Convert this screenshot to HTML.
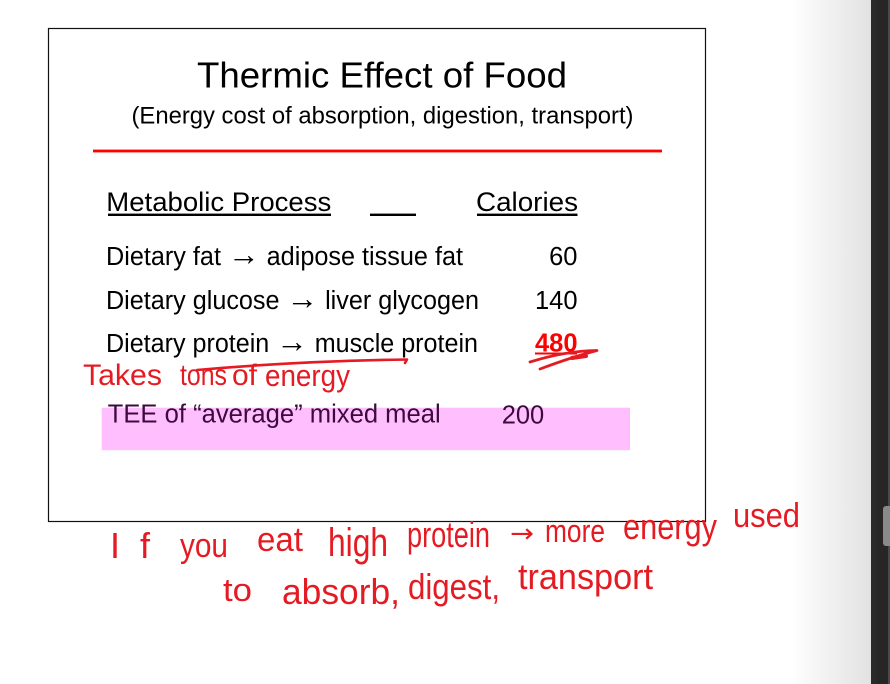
<!DOCTYPE html>
<html>
<head>
<meta charset="utf-8">
<style>
  html, body { margin: 0; padding: 0; background: #ffffff; }
  body { width: 890px; height: 684px; overflow: hidden; }
  svg { display: block; }
  .sans { font-family: "Liberation Sans", Arial, sans-serif; }
  .hw { font-family: "Liberation Sans", Arial, sans-serif; fill: #e41b23; }
</style>
</head>
<body>
<svg width="890" height="684" viewBox="0 0 890 684" xmlns="http://www.w3.org/2000/svg">
  <defs>
    <linearGradient id="shade" x1="0" y1="0" x2="1" y2="0">
      <stop offset="0" stop-color="#ffffff"/>
      <stop offset="1" stop-color="#e2e2e2"/>
    </linearGradient>
  </defs>

  <!-- page background -->
  <rect x="0" y="0" width="890" height="684" fill="#ffffff"/>
  <rect x="790" y="0" width="81" height="684" fill="url(#shade)"/>
  <rect x="871" y="0" width="19" height="684" fill="#2a2a2a"/>
  <rect x="877" y="0" width="11" height="684" fill="#262626"/>
  <rect x="888" y="0" width="2" height="684" fill="#4a4a4a"/>
  <rect x="883" y="506" width="9" height="40" rx="3" fill="#8a8a8a"/>

  <!-- slide box -->
  <rect x="48.5" y="28.5" width="657" height="493" fill="#ffffff" stroke="#111111" stroke-width="1.2"/>

  <!-- title -->
  <text class="sans" x="197" y="87.5" font-size="36.5" textLength="370" lengthAdjust="spacingAndGlyphs" fill="#000">Thermic Effect of Food</text>
  <text class="sans" x="131.5" y="123.5" font-size="23.7" textLength="502" lengthAdjust="spacingAndGlyphs" fill="#000">(Energy cost of absorption, digestion, transport)</text>

  <!-- red rule -->
  <rect x="93" y="149.6" width="569" height="2.8" fill="#ff0000"/>

  <!-- headers -->
  <text class="sans" x="106.3" y="211" font-size="27" textLength="225" lengthAdjust="spacingAndGlyphs" fill="#000">Metabolic Process</text>
  <rect x="108" y="213.6" width="223" height="2.4" fill="#000"/>
  <rect x="370" y="213.6" width="46" height="2.4" fill="#000"/>
  <text class="sans" x="476" y="211" font-size="27" textLength="102" lengthAdjust="spacingAndGlyphs" fill="#000">Calories</text>
  <rect x="477" y="213.6" width="100.5" height="2.4" fill="#000"/>

  <!-- rows -->
  <text class="sans" x="106" y="264.8" font-size="25.5" textLength="357" lengthAdjust="spacingAndGlyphs" fill="#000">Dietary fat <tspan font-size="32">→</tspan> adipose tissue fat</text>
  <text class="sans" x="577.5" y="264.8" font-size="25.5" text-anchor="end" fill="#000">60</text>

  <text class="sans" x="106" y="309" font-size="25.5" textLength="373" lengthAdjust="spacingAndGlyphs" fill="#000">Dietary glucose <tspan font-size="32">→</tspan> liver glycogen</text>
  <text class="sans" x="577.5" y="309" font-size="25.5" text-anchor="end" fill="#000">140</text>

  <text class="sans" x="106" y="352" font-size="25.5" textLength="372" lengthAdjust="spacingAndGlyphs" fill="#000">Dietary protein <tspan font-size="32">→</tspan> muscle protein</text>
  <text class="sans" x="577.5" y="351.7" font-size="25.5" font-weight="bold" text-anchor="end" fill="#ff0000">480</text>
  <rect x="535" y="352.5" width="42" height="2" fill="#ff0000"/>

  <!-- pink highlight row -->
  <rect x="101.7" y="407.7" width="528.3" height="42.5" fill="#ffbfff"/>
  <text class="sans" x="107.7" y="422.5" font-size="25.5" textLength="333" lengthAdjust="spacingAndGlyphs" fill="#3d0a3d">TEE of “average” mixed meal</text>
  <text class="sans" x="501.7" y="423.5" font-size="25.5" fill="#3d0a3d">200</text>

  <!-- handwritten strokes -->
  <path d="M197,370 Q300,361 407,359.5 L405,363" fill="none" stroke="#e41b23" stroke-width="2.6" stroke-linecap="round" stroke-linejoin="round"/>
  <path d="M530,362 Q565,351 597,350.5 Q572,357 540,369" fill="none" stroke="#e41b23" stroke-width="2.8" stroke-linecap="round" stroke-linejoin="round"/>
  <path d="M572,358 L586,356" stroke="#e41b23" stroke-width="4" stroke-linecap="round"/>

  <!-- handwritten notes (as text) -->
  <text class="hw" x="83" y="385" font-size="30" textLength="79" lengthAdjust="spacingAndGlyphs">Takes</text>
  <text class="hw" x="180" y="385" font-size="30" textLength="47" lengthAdjust="spacingAndGlyphs">tons</text>
  <text class="hw" x="232" y="385" font-size="30">of</text>
  <text class="hw" x="265" y="386" font-size="31" textLength="85" lengthAdjust="spacingAndGlyphs">energy</text>

  <text class="hw" x="110 140" y="558" font-size="36">If</text>
  <text class="hw" x="180" y="557" font-size="34" textLength="48" lengthAdjust="spacingAndGlyphs">you</text>
  <text class="hw" x="257" y="551" font-size="34" textLength="46" lengthAdjust="spacingAndGlyphs">eat</text>
  <text class="hw" x="328" y="556" font-size="40" textLength="60" lengthAdjust="spacingAndGlyphs">high</text>
  <text class="hw" x="407" y="547" font-size="36" textLength="83" lengthAdjust="spacingAndGlyphs">protein</text>
  <text x="510" y="542" font-size="26" textLength="24" lengthAdjust="spacingAndGlyphs" style="font-family:'DejaVu Sans',sans-serif;fill:#e41b23">→</text>
  <text class="hw" x="545" y="542" font-size="32" textLength="60" lengthAdjust="spacingAndGlyphs">more</text>
  <text class="hw" x="623" y="539" font-size="36" textLength="94" lengthAdjust="spacingAndGlyphs">energy</text>
  <text class="hw" x="733" y="527" font-size="34" textLength="67" lengthAdjust="spacingAndGlyphs">used</text>

  <text class="hw" x="223" y="601" font-size="32" textLength="29" lengthAdjust="spacingAndGlyphs">to</text>
  <text class="hw" x="282" y="604" font-size="36" textLength="118" lengthAdjust="spacingAndGlyphs">absorb,</text>
  <text class="hw" x="408" y="599" font-size="36" textLength="92" lengthAdjust="spacingAndGlyphs">digest,</text>
  <text class="hw" x="518" y="589" font-size="36" textLength="135" lengthAdjust="spacingAndGlyphs">transport</text>
</svg>
</body>
</html>
